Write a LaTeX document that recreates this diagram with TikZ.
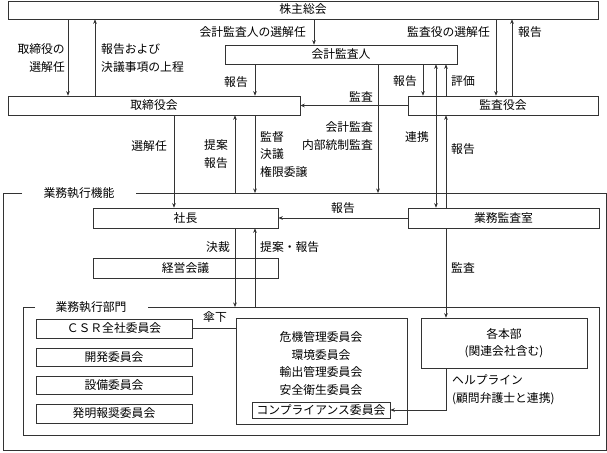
\documentclass[tikz,border=0pt]{standalone}
\usepackage{fontspec}
\setmainfont{Noto Sans CJK JP}
\usetikzlibrary{arrows.meta}
\begin{document}
\begin{tikzpicture}[x=1pt,y=-1pt,
  font=\fontsize{11.8}{17.5}\selectfont,
  box/.style={draw=black!80, fill=white, line width=0.6pt, inner sep=0pt, rectangle, text height=9.5pt, text depth=1.5pt},
  conn/.style={draw=black!80, line width=0.6pt},
  arr/.style={conn, -{Stealth[length=4.5pt,width=3.6pt]}},
  darr/.style={conn, {Stealth[length=4.5pt,width=3.6pt]}-{Stealth[length=4.5pt,width=3.6pt]}},
  lbl/.style={inner sep=0pt, text height=9.5pt, text depth=1.5pt}]
\useasboundingbox (0,0) rectangle (607,452);
\fill[white] (0,0) rectangle (607,452);

% frames
\coordinate (otop) at (0,193);
\coordinate (itop) at (0,307);
\draw[conn] (22,193) -- (3,193) -- (3,450) -- (606,450) -- (606,193) -- (136,193);
\node[lbl] (t1) at (79,193) {業務執行機能};
\draw[conn] (35,307) -- (23,307) -- (23,435) -- (599,435) -- (599,307) -- (148,307);
\node[lbl] (t2) at (91,307) {業務執行部門};

% boxes
\node[box, minimum width=590pt, minimum height=18pt] (kabu) at (303,10) {株主総会};
\node[box, minimum width=232pt, minimum height=19pt] (kaikei) at (341,54.5) {会計監査人};
\node[box, minimum width=292pt, minimum height=19pt] (tori) at (154,105.5) {取締役会};
\node[box, minimum width=190pt, minimum height=19pt] (kansa) at (503,105.5) {監査役会};
\node[box, minimum width=185pt, minimum height=20pt] (shacho) at (185.5,218) {社長};
\node[box, minimum width=191pt, minimum height=20pt] (gyomu) at (503.5,218) {業務監査室};
\node[box, minimum width=185pt, minimum height=20pt] (keiei) at (185.5,268) {経営会議};
\node[box, minimum width=156pt, minimum height=19pt] (csr) at (114,328.5) {ＣＳＲ全社委員会};
\node[box, minimum width=156pt, minimum height=18pt] (kaihatsu) at (114,357) {開発委員会};
\node[box, minimum width=156pt, minimum height=18pt] (setsubi) at (114,385) {設備委員会};
\node[box, minimum width=156pt, minimum height=19pt] (hatsumei) at (114,413.5) {発明報奨委員会};
\node[box, minimum width=171pt, minimum height=106pt] (iin) at (321.5,371) {};
\node[lbl] (c1) at (321,337) {危機管理委員会};
\node[lbl] (c2) at (321,355) {環境委員会};
\node[lbl] (c3) at (321,372.5) {輸出管理委員会};
\node[lbl] (c4) at (321,390) {安全衛生委員会};
\node[box, minimum width=138pt, minimum height=16pt] (comp) at (321,410) {コンプライアンス委員会};
\node[box, minimum width=166pt, minimum height=50pt, align=center, text height=27pt] (honbu) at (504,343) {各本部\\(関連会社含む)};

% labels (multi-line nodes are placed at their last line)
\node[lbl, align=right, anchor=east] (l1) at (65,67) {取締役の\\選解任};
\node[lbl, align=left, anchor=west] (l2) at (101,67) {報告および\\決議事項の上程};
\node[lbl, anchor=east] (l3) at (306,33) {会計監査人の選解任};
\node[lbl] (l4) at (236,82) {報告};
\node[lbl, anchor=east] (l5) at (490,33) {監査役の選解任};
\node[lbl] (l6) at (530,33) {報告};
\node[lbl] (l7) at (405,81) {報告};
\node[lbl] (l8) at (463,81) {評価};
\node[lbl] (l9) at (361,97) {監査};
\node[lbl, align=right, anchor=east] (l10) at (373,145) {会計監査\\内部統制監査};
\node[lbl] (l11) at (417,137) {連携};
\node[lbl] (l12) at (463,149) {報告};
\node[lbl, anchor=east] (l13) at (167,146) {選解任};
\node[lbl, align=center] (l14) at (216,163) {提案\\報告};
\node[lbl, align=left, anchor=west] (l15) at (260,172) {監督\\決議\\権限委譲};
\node[lbl] (l16) at (343,208) {報告};
\node[lbl] (l17) at (218,247) {決裁};
\node[lbl, anchor=west] (l18) at (260,247) {提案・報告};
\node[lbl] (l19) at (463,268) {監査};
\node[lbl] (l20) at (215,317) {傘下};
\node[lbl, align=left, anchor=west] (l21) at (452,398) {ヘルプライン\\(顧問弁護士と連携)};

% connectors
\draw[arr] (68,0 |- kabu.south) -- (68,0 |- tori.north);
\draw[arr] (95,0 |- tori.north) -- (95,0 |- kabu.south);
\draw[arr] (314,0 |- kabu.south) -- (314,0 |- kaikei.north);
\draw[arr] (255,0 |- kaikei.south) -- (255,0 |- tori.north);
\draw[arr] (496,0 |- kabu.south) -- (496,0 |- kansa.north);
\draw[arr] (512,0 |- kansa.north) -- (512,0 |- kabu.south);
\draw[arr] (423,0 |- kaikei.south) -- (423,0 |- kansa.north);
\draw[arr] (446,0 |- kansa.north) -- (446,0 |- kaikei.south);
\draw[arr] (kansa.west) -- (tori.east);
\draw[darr] (436,0 |- gyomu.north) -- (436,0 |- kaikei.south);
\draw[arr] (446,0 |- gyomu.north) -- (446,0 |- kansa.south);
\draw[arr] (378,0 |- kaikei.south) -- (378,0 |- otop);
\draw[arr] (174,0 |- tori.south) -- (174,0 |- shacho.north);
\draw[arr] (235,0 |- otop) -- (235,0 |- tori.south);
\draw[arr] (255,0 |- tori.south) -- (255,0 |- otop);
\draw[arr] (gyomu.west) -- (shacho.east);
\draw[arr] (235,0 |- shacho.south) -- (235,0 |- itop);
\draw[arr] (255,0 |- itop) -- (255,0 |- shacho.south);
\draw[arr] (446,0 |- gyomu.south) -- (446,0 |- honbu.north);
\draw[conn] (csr.east) -- (csr.east -| iin.west);
\draw[arr] (446,0 |- honbu.south) |- (comp.east);
\end{tikzpicture}
\end{document}
